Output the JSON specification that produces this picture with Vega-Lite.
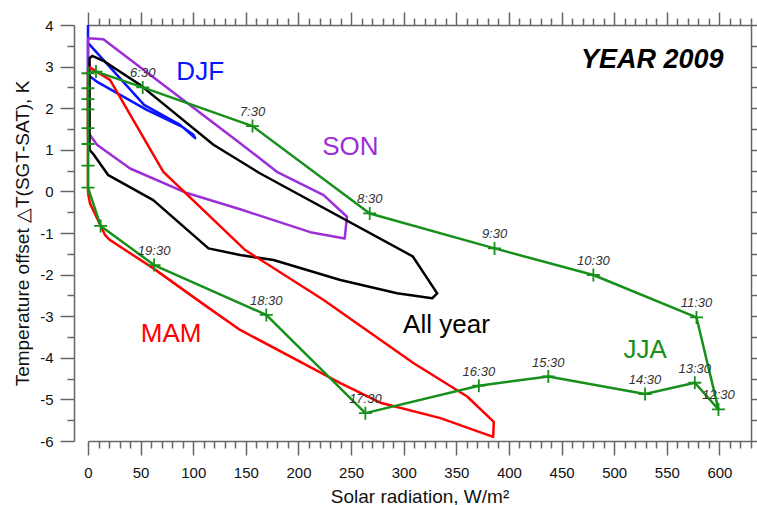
{
  "$schema": "https://vega.github.io/schema/vega-lite/v6.json",
  "width": 663,
  "height": 416,
  "autosize": {"type": "none"},
  "padding": {"left": 88, "top": 25, "right": 6, "bottom": 64},
  "background": "white",
  "config": {
    "view": {"stroke": null},
    "font": "Liberation Sans",
    "axis": {
      "domainColor": "#666",
      "domainWidth": 1.5,
      "tickColor": "#666",
      "tickWidth": 1.5,
      "grid": false,
      "labelColor": "#111",
      "titleColor": "#111",
      "labelFont": "Liberation Sans",
      "titleFont": "Liberation Sans",
      "labelFontSize": 15,
      "titleFontSize": 19,
      "titleFontWeight": "normal",
      "labelFlush": false,
      "labelBound": false,
      "labelOverlap": false
    }
  },
  "datasets": {
    "loops": [
      {"season": "DJF", "i": 0, "rad": 0, "dT": 4.0},
      {"season": "DJF", "i": 1, "rad": 0, "dT": 3.57},
      {"season": "DJF", "i": 2, "rad": 53.3, "dT": 2.08},
      {"season": "DJF", "i": 3, "rad": 87.5, "dT": 1.6},
      {"season": "DJF", "i": 4, "rad": 101.8, "dT": 1.28},
      {"season": "DJF", "i": 5, "rad": 100.2, "dT": 1.36},
      {"season": "DJF", "i": 6, "rad": 89.1, "dT": 1.56},
      {"season": "DJF", "i": 7, "rad": 55.8, "dT": 1.96},
      {"season": "DJF", "i": 8, "rad": 8.3, "dT": 2.64},
      {"season": "DJF", "i": 9, "rad": 0, "dT": 2.8},
      {"season": "DJF", "i": 10, "rad": 0, "dT": 3.57},

      {"season": "SON", "i": 0, "rad": 0, "dT": 1.42},
      {"season": "SON", "i": 1, "rad": 8.5, "dT": 1.12},
      {"season": "SON", "i": 2, "rad": 40, "dT": 0.55},
      {"season": "SON", "i": 3, "rad": 94, "dT": -0.04},
      {"season": "SON", "i": 4, "rad": 144.6, "dT": -0.43},
      {"season": "SON", "i": 5, "rad": 211.2, "dT": -0.98},
      {"season": "SON", "i": 6, "rad": 243.9, "dT": -1.13},
      {"season": "SON", "i": 7, "rad": 246.1, "dT": -0.61},
      {"season": "SON", "i": 8, "rad": 223.9, "dT": -0.09},
      {"season": "SON", "i": 9, "rad": 179.5, "dT": 0.47},
      {"season": "SON", "i": 10, "rad": 144.6, "dT": 1.16},
      {"season": "SON", "i": 11, "rad": 14.6, "dT": 3.66},
      {"season": "SON", "i": 12, "rad": 0, "dT": 3.68},
      {"season": "SON", "i": 13, "rad": 0, "dT": 1.42},

      {"season": "All year", "i": 0, "rad": 1.5, "dT": 1.0},
      {"season": "All year", "i": 1, "rad": 1.5, "dT": 3.2},
      {"season": "All year", "i": 2, "rad": 4, "dT": 3.26},
      {"season": "All year", "i": 3, "rad": 14.6, "dT": 3.14},
      {"season": "All year", "i": 4, "rad": 49.5, "dT": 2.56},
      {"season": "All year", "i": 5, "rad": 119.2, "dT": 1.12},
      {"season": "All year", "i": 6, "rad": 163.7, "dT": 0.43},
      {"season": "All year", "i": 7, "rad": 308.5, "dT": -1.56},
      {"season": "All year", "i": 8, "rad": 331.8, "dT": -2.45},
      {"season": "All year", "i": 9, "rad": 327, "dT": -2.57},
      {"season": "All year", "i": 10, "rad": 293.7, "dT": -2.45},
      {"season": "All year", "i": 11, "rad": 239.8, "dT": -2.13},
      {"season": "All year", "i": 12, "rad": 176.3, "dT": -1.65},
      {"season": "All year", "i": 13, "rad": 144.6, "dT": -1.53},
      {"season": "All year", "i": 14, "rad": 114.5, "dT": -1.37},
      {"season": "All year", "i": 15, "rad": 62, "dT": -0.21},
      {"season": "All year", "i": 16, "rad": 19.3, "dT": 0.39},
      {"season": "All year", "i": 17, "rad": 5, "dT": 0.9},
      {"season": "All year", "i": 18, "rad": 1.5, "dT": 1.0},

      {"season": "MAM", "i": 0, "rad": 0, "dT": -0.04},
      {"season": "MAM", "i": 1, "rad": 0, "dT": 2.9},
      {"season": "MAM", "i": 2, "rad": 1.5, "dT": 2.98},
      {"season": "MAM", "i": 3, "rad": 20.9, "dT": 2.68},
      {"season": "MAM", "i": 4, "rad": 71.6, "dT": 0.47},
      {"season": "MAM", "i": 5, "rad": 149.4, "dT": -1.41},
      {"season": "MAM", "i": 6, "rad": 223.9, "dT": -2.61},
      {"season": "MAM", "i": 7, "rad": 309.5, "dT": -4.13},
      {"season": "MAM", "i": 8, "rad": 360.3, "dT": -4.93},
      {"season": "MAM", "i": 9, "rad": 385.6, "dT": -5.54},
      {"season": "MAM", "i": 10, "rad": 385, "dT": -5.9},
      {"season": "MAM", "i": 11, "rad": 334.9, "dT": -5.45},
      {"season": "MAM", "i": 12, "rad": 277.8, "dT": -5.08},
      {"season": "MAM", "i": 13, "rad": 239.8, "dT": -4.61},
      {"season": "MAM", "i": 14, "rad": 144.6, "dT": -3.33},
      {"season": "MAM", "i": 15, "rad": 112.9, "dT": -2.77},
      {"season": "MAM", "i": 16, "rad": 62.1, "dT": -1.85},
      {"season": "MAM", "i": 17, "rad": 20.9, "dT": -1.17},
      {"season": "MAM", "i": 18, "rad": 16.2, "dT": -1.05},
      {"season": "MAM", "i": 19, "rad": 1.9, "dT": -0.29},
      {"season": "MAM", "i": 20, "rad": 0, "dT": -0.04}
    ],
    "jja": [
      {"i": 0, "time": "6:30", "labelled": true, "rad": 52, "dT": 2.5},
      {"i": 1, "time": "7:30", "labelled": true, "rad": 156.3, "dT": 1.57},
      {"i": 2, "time": "8:30", "labelled": true, "rad": 267.7, "dT": -0.53},
      {"i": 3, "time": "9:30", "labelled": true, "rad": 386.3, "dT": -1.37},
      {"i": 4, "time": "10:30", "labelled": true, "rad": 480.2, "dT": -2.01},
      {"i": 5, "time": "11:30", "labelled": true, "rad": 578.2, "dT": -3.03},
      {"i": 6, "time": "12:30", "labelled": true, "rad": 599.1, "dT": -5.24},
      {"i": 7, "time": "13:30", "labelled": true, "rad": 576.6, "dT": -4.6},
      {"i": 8, "time": "14:30", "labelled": true, "rad": 529.3, "dT": -4.87},
      {"i": 9, "time": "15:30", "labelled": true, "rad": 437.4, "dT": -4.45},
      {"i": 10, "time": "16:30", "labelled": true, "rad": 371.4, "dT": -4.67},
      {"i": 11, "time": "17:30", "labelled": true, "rad": 263.6, "dT": -5.33},
      {"i": 12, "time": "18:30", "labelled": true, "rad": 169.4, "dT": -2.97},
      {"i": 13, "time": "19:30", "labelled": true, "rad": 62.8, "dT": -1.77},
      {"i": 14, "time": "20:30", "labelled": false, "rad": 12, "dT": -0.83},
      {"i": 15, "time": "21:30", "labelled": false, "rad": 0, "dT": 0.09},
      {"i": 16, "time": "22:30", "labelled": false, "rad": 0, "dT": 0.62},
      {"i": 17, "time": "23:30", "labelled": false, "rad": 0, "dT": 1.14},
      {"i": 18, "time": "0:30", "labelled": false, "rad": 0, "dT": 1.52},
      {"i": 19, "time": "1:30", "labelled": false, "rad": 0, "dT": 1.97},
      {"i": 20, "time": "2:30", "labelled": false, "rad": 0, "dT": 2.22},
      {"i": 21, "time": "3:30", "labelled": false, "rad": 0, "dT": 2.48},
      {"i": 22, "time": "4:30", "labelled": false, "rad": 0, "dT": 2.84},
      {"i": 23, "time": "5:30", "labelled": false, "rad": 7.6, "dT": 2.88},
      {"i": 24, "time": "6:30", "labelled": false, "rad": 52, "dT": 2.5}
    ],
    "notes": [
      {"text": "DJF", "rad": 106.6, "dT": 2.68},
      {"text": "SON", "rad": 249.3, "dT": 0.875},
      {"text": "MAM", "rad": 79, "dT": -3.62},
      {"text": "All year", "rad": 340.6, "dT": -3.4},
      {"text": "JJA", "rad": 529.5, "dT": -4.0}
    ],
    "title": [
      {"text": "YEAR 2009", "rad": 536.2, "dT": 2.96}
    ]
  },
  "layer": [
    {
      "data": {"name": "loops"},
      "transform": [{"filter": "datum.season === 'DJF'"}],
      "mark": {"type": "line", "color": "#0a14ff", "strokeWidth": 2.5, "strokeJoin": "round"},
      "encoding": {
        "x": {
          "field": "rad", "type": "quantitative",
          "scale": {"domain": [0, 630], "nice": false, "zero": false},
          "axis": {
            "orient": "bottom",
            "values": [0,10,20,30,40,50,60,70,80,90,100,110,120,130,140,150,160,170,180,190,200,210,220,230,240,250,260,270,280,290,300,310,320,330,340,350,360,370,380,390,400,410,420,430,440,450,460,470,480,490,500,510,520,530,540,550,560,570,580,590,600,610,620,630],
            "labelExpr": "datum.value % 50 === 0 && datum.value <= 600 ? '' + datum.value : ''",
            "tickSize": {"condition": {"test": "datum.value % 50 === 0 && datum.value <= 600", "value": 14}, "value": 7},
            "labelPadding": 10,
            "title": "Solar radiation, W/m²",
            "titlePadding": 7
          }
        },
        "y": {
          "field": "dT", "type": "quantitative",
          "scale": {"domain": [-6, 4], "nice": false, "zero": false},
          "axis": {
            "orient": "left",
            "offset": 14,
            "values": [-6,-5.5,-5,-4.5,-4,-3.5,-3,-2.5,-2,-1.5,-1,-0.5,0,0.5,1,1.5,2,2.5,3,3.5,4],
            "labelExpr": "datum.value % 1 === 0 ? '' + datum.value : ''",
            "tickSize": {"condition": {"test": "datum.value % 1 === 0", "value": 14}, "value": 7},
            "labelPadding": 7,
            "title": "Temperature offset △T(SGT-SAT), K",
            "titlePadding": 7
          }
        },
        "order": {"field": "i", "type": "quantitative"}
      }
    },
    {
      "data": {"name": "loops"},
      "transform": [{"filter": "datum.season === 'SON'"}],
      "mark": {"type": "line", "color": "#9b2fd6", "strokeWidth": 2.5, "strokeJoin": "round"},
      "encoding": {
        "x": {"field": "rad", "type": "quantitative", "axis": null},
        "y": {"field": "dT", "type": "quantitative", "axis": null},
        "order": {"field": "i", "type": "quantitative"}
      }
    },
    {
      "data": {"name": "loops"},
      "transform": [{"filter": "datum.season === 'All year'"}],
      "mark": {"type": "line", "color": "#000000", "strokeWidth": 2.5, "strokeJoin": "round"},
      "encoding": {
        "x": {"field": "rad", "type": "quantitative", "axis": null},
        "y": {"field": "dT", "type": "quantitative", "axis": null},
        "order": {"field": "i", "type": "quantitative"}
      }
    },
    {
      "data": {"name": "loops"},
      "transform": [{"filter": "datum.season === 'MAM'"}],
      "mark": {"type": "line", "color": "#ff0000", "strokeWidth": 2.5, "strokeJoin": "round"},
      "encoding": {
        "x": {"field": "rad", "type": "quantitative", "axis": null},
        "y": {"field": "dT", "type": "quantitative", "axis": null},
        "order": {"field": "i", "type": "quantitative"}
      }
    },
    {
      "data": {"name": "jja"},
      "mark": {"type": "line", "color": "#17901b", "strokeWidth": 2.5, "strokeJoin": "round"},
      "encoding": {
        "x": {
          "field": "rad", "type": "quantitative",
          "axis": {
            "orient": "top",
            "values": [0,10,20,30,40,50,60,70,80,90,100,110,120,130,140,150,160,170,180,190,200,210,220,230,240,250,260,270,280,290,300,310,320,330,340,350,360,370,380,390,400,410,420,430,440,450,460,470,480,490,500,510,520,530,540,550,560,570,580,590,600,610,620,630],
            "labels": false,
            "tickSize": {"condition": {"test": "datum.value % 50 === 0 && datum.value <= 600", "value": 13}, "value": 7},
            "title": null
          }
        },
        "y": {
          "field": "dT", "type": "quantitative",
          "axis": {
            "orient": "right",
            "values": [-6,-5.5,-5,-4.5,-4,-3.5,-3,-2.5,-2,-1.5,-1,-0.5,0,0.5,1,1.5,2,2.5,3,3.5,4],
            "labels": false,
            "tickSize": 6,
            "title": null
          }
        },
        "order": {"field": "i", "type": "quantitative"}
      }
    },
    {
      "data": {"name": "jja"},
      "transform": [{"filter": "datum.i < 24"}],
      "mark": {"type": "point", "shape": "M-1,0H1M0,-1V1", "size": 169, "filled": false, "stroke": "#17901b", "strokeWidth": 1.8, "opacity": 1},
      "encoding": {
        "x": {"field": "rad", "type": "quantitative", "axis": null},
        "y": {"field": "dT", "type": "quantitative", "axis": null}
      }
    },
    {
      "data": {"name": "jja"},
      "transform": [{"filter": "datum.labelled"}],
      "mark": {"type": "text", "font": "Liberation Sans", "fontStyle": "italic", "fontSize": 13, "color": "#333333", "align": "center", "baseline": "alphabetic", "dy": -10},
      "encoding": {
        "x": {"field": "rad", "type": "quantitative", "axis": null},
        "y": {"field": "dT", "type": "quantitative", "axis": null},
        "text": {"field": "time"}
      }
    },
    {
      "data": {"name": "notes"},
      "mark": {"type": "text", "font": "Liberation Sans", "fontSize": 26, "align": "center", "baseline": "alphabetic"},
      "encoding": {
        "x": {"field": "rad", "type": "quantitative", "axis": null},
        "y": {"field": "dT", "type": "quantitative", "axis": null},
        "text": {"field": "text"},
        "color": {
          "field": "text", "type": "nominal", "legend": null,
          "scale": {"domain": ["DJF", "SON", "MAM", "All year", "JJA"], "range": ["#0a14ff", "#9b2fd6", "#ff0000", "#000000", "#17901b"]}
        }
      }
    },
    {
      "data": {"name": "title"},
      "mark": {"type": "text", "font": "Liberation Sans", "fontSize": 27, "fontWeight": "bold", "fontStyle": "italic", "align": "center", "baseline": "alphabetic", "color": "#000000"},
      "encoding": {
        "x": {"field": "rad", "type": "quantitative", "axis": null},
        "y": {"field": "dT", "type": "quantitative", "axis": null},
        "text": {"field": "text"}
      }
    }
  ],
  "resolve": {"axis": {"x": "independent", "y": "independent"}}
}
